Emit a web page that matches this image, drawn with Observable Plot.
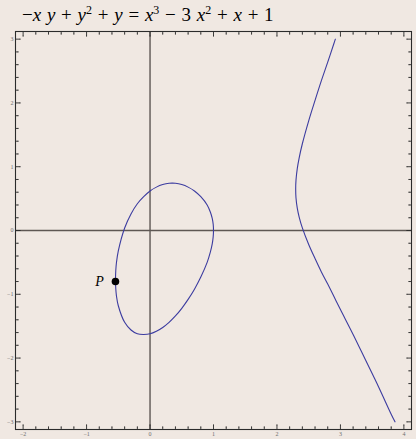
<!DOCTYPE html>
<html>
<head>
<meta charset="utf-8">
<script src="https://cdn.jsdelivr.net/npm/d3@7"></script>
<script src="https://cdn.jsdelivr.net/npm/@observablehq/plot@0.6"></script>
<style>
  html, body { margin: 0; padding: 0; background: #f0e8e2; }
  #wrap { position: relative; width: 416px; height: 439px; background: #f0e8e2; overflow: hidden; }
  #title { position: absolute; left: 22px; top: 3px; height: 24px; line-height: 24px; font-family: "Liberation Serif", "DejaVu Serif", serif; font-size: 19px; color: #000; white-space: nowrap; word-spacing: 1px; }
  #title sup { font-size: 12px; line-height: 0; vertical-align: 0; position: relative; top: -7px; }
  #chart { position: absolute; left: 0; top: 27px; }
</style>
</head>
<body>
<div id="wrap">
  <div id="title">−<i>x</i> <i>y</i> + <i>y</i><sup>2</sup> + <i>y</i> = <i>x</i><sup>3</sup> − 3 <i>x</i><sup>2</sup> + <i>x</i> + 1</div>
  <div id="chart"></div>
</div>
<script>
// Bounded oval of the cubic, traced once around starting at its leftmost point
const ovalX = [-0.545, -0.54, -0.53, -0.5, -0.4, -0.3, -0.2, -0.1, 0, 0.1, 0.2, 0.3, 0.4, 0.5, 0.6, 0.7, 0.8, 0.9, 0.95, 0.98, 0.995, 1.0,
               0.995, 0.98, 0.95, 0.9, 0.8, 0.7, 0.6, 0.5, 0.4, 0.3, 0.2, 0.1, 0, -0.1, -0.2, -0.3, -0.4, -0.5, -0.53, -0.54, -0.545];
const ovalY = [-0.77, -0.63, -0.51, -0.32, 0.04, 0.26, 0.42, 0.53, 0.62, 0.68, 0.72, 0.74, 0.74, 0.72, 0.68, 0.62, 0.53, 0.40, 0.29, 0.19, 0.10, 0.0,
               -0.10, -0.21, -0.34, -0.50, -0.73, -0.92, -1.08, -1.22, -1.34, -1.44, -1.52, -1.58, -1.62, -1.63, -1.62, -1.56, -1.44, -1.18, -1.02, -0.91, -0.77];

// Unbounded branch, from its upper end down through the turning point to its lower end
const branchX = [2.92, 2.9, 2.8, 2.7, 2.6, 2.5, 2.4, 2.35, 2.32, 2.3, 2.295, 2.3, 2.32, 2.35, 2.4, 2.5, 2.6, 2.7, 2.8, 2.9, 3.0, 3.2, 3.4, 3.6, 3.8, 3.86];
const branchY = [3.0, 2.94, 2.64, 2.35, 2.04, 1.72, 1.36, 1.14, 0.97, 0.79, 0.65, 0.51, 0.35, 0.21, 0.04, -0.22, -0.44, -0.65, -0.84, -1.04, -1.24, -1.63, -2.04, -2.45, -2.88, -3.0];

// Marked point P on the oval
const pointP = {x: -0.545, y: -0.80, label: "P"};

// Frame tick positions
const xMajor = [-2, -1, 0, 1, 2, 3, 4];
const yMajor = [-3, -2, -1, 0, 1, 2, 3];
const xMinor = [-1.8, -1.6, -1.4, -1.2, -0.8, -0.6, -0.4, -0.2, 0.2, 0.4, 0.6, 0.8, 1.2, 1.4, 1.6, 1.8,
                2.2, 2.4, 2.6, 2.8, 3.2, 3.4, 3.6, 3.8];
const yMinor = [-2.8, -2.6, -2.4, -2.2, -1.8, -1.6, -1.4, -1.2, -0.8, -0.6, -0.4, -0.2, 0.2, 0.4, 0.6, 0.8,
                1.2, 1.4, 1.6, 1.8, 2.2, 2.4, 2.6, 2.8];

const oval = ovalX.map((x, i) => ({x, y: ovalY[i]}));
const branch = branchX.map((x, i) => ({x, y: branchY[i]}));

const curveColor = "#3c3ca0";
const frameColor = "#2b2b2b";
const labelFont = "Liberation Serif, DejaVu Serif, serif";
const fmt = d => d < 0 ? "−" + Math.abs(d) : String(d);

// Inward-pointing frame ticks drawn as plain line vectors
function frameTicks(values, side, len) {
  const horiz = side === "bottom" || side === "top";
  const rotate = {bottom: 0, top: 180, left: 90, right: 270}[side];
  return Plot.vector(values, {
    [horiz ? "x" : "y"]: d => d,
    frameAnchor: side,
    length: len,
    rotate,
    anchor: "start",
    r: 0,
    stroke: frameColor,
    strokeWidth: 0.9
  });
}

const chart = Plot.plot({
  width: 416,
  height: 412,
  marginTop: 4,
  marginBottom: 10,
  marginLeft: 15,
  marginRight: 5,
  x: {domain: [-2.12, 4.12], axis: null},
  y: {domain: [-3.12, 3.12], axis: null},
  style: {background: "transparent", overflow: "visible"},
  marks: [
    Plot.ruleY([0], {stroke: "#5e5753", strokeWidth: 1.4}),
    Plot.ruleX([0], {stroke: "#5e5753", strokeWidth: 1.4}),
    Plot.line(oval, {x: "x", y: "y", curve: "catmull-rom", stroke: curveColor, strokeWidth: 1.1}),
    Plot.line(branch, {x: "x", y: "y", curve: "catmull-rom", stroke: curveColor, strokeWidth: 1.1}),
    ...["bottom", "top"].flatMap(s => [frameTicks(xMajor, s, 4.5), frameTicks(xMinor, s, 2.5)]),
    ...["left", "right"].flatMap(s => [frameTicks(yMajor, s, 4.5), frameTicks(yMinor, s, 2.5)]),
    Plot.frame({stroke: frameColor, strokeWidth: 1.1}),
    Plot.text(xMajor, {x: d => d, frameAnchor: "bottom", dy: 6, text: fmt, fontSize: 6, fontFamily: labelFont, fill: "#6e6e6e"}),
    Plot.text(yMajor, {y: d => d, frameAnchor: "left", dx: -2, textAnchor: "end", text: fmt, fontSize: 6, fontFamily: labelFont, fill: "#6e6e6e"}),
    Plot.dot([pointP], {x: "x", y: "y", r: 3.8, fill: "#000"}),
    Plot.text([pointP], {x: "x", y: "y", text: "label", dx: -16, fontSize: 14, fontStyle: "italic", fontFamily: labelFont, fill: "#000"})
  ]
});

document.getElementById("chart").appendChild(chart);
</script>
</body>
</html>
